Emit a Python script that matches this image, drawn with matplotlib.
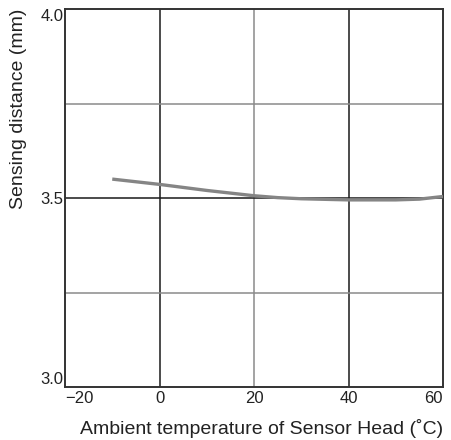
import matplotlib

# Use non-interactive backend
matplotlib.use("Agg")

import matplotlib.pyplot as plt

plt.rcParams["font.family"] = ["Liberation Sans", "DejaVu Sans"]

# ------------------ data ------------------
temperature_c = [-10, 0, 10, 20, 25, 30, 40, 50, 55, 60]
sensing_mm = [3.550, 3.536, 3.520, 3.506, 3.501, 3.498, 3.495, 3.495, 3.497, 3.504]

x_ticks = [-20, 0, 20, 40, 60]
x_tick_labels = ["\u221220", "0", "20", "40", "60"]
y_ticks = [3.0, 3.5, 4.0]
y_tick_labels = ["3.0", "3.5", "4.0"]

# grid lines: (position, colour)
x_grid = [(0, "#1a1a1a"), (20, "#8a8a8a"), (40, "#1a1a1a")]
y_grid = [(3.25, "#8a8a8a"), (3.5, "#1a1a1a"), (3.75, "#8a8a8a")]

# ------------------ plot ------------------
fig = plt.figure(figsize=(4.51, 4.40), dpi=100)
ax = fig.add_axes([65 / 451, 53 / 440, 378 / 451, 378 / 440])

for xv, c in x_grid:
    ax.axvline(xv, color=c, lw=1.1, zorder=1)
for yv, c in y_grid:
    ax.axhline(yv, color=c, lw=1.1, zorder=1)

ax.plot(temperature_c, sensing_mm, color="#858585", lw=2.4,
        solid_capstyle="butt", solid_joinstyle="round", zorder=3)

ax.set_xlim(-20, 60)
ax.set_ylim(3.0, 4.0)

ax.set_xticks(x_ticks)
ax.set_xticklabels(x_tick_labels)
ax.set_yticks(y_ticks)
ax.set_yticklabels(y_tick_labels)
ax.tick_params(length=0, labelsize=12, labelcolor="#222222", pad=3)
ax.tick_params(axis="y", pad=1)

# nudge end labels inward like the reference
xl = ax.get_xticklabels()
xl[0].set_ha("left")
xl[-1].set_ha("right")
yl = ax.get_yticklabels()
yl[0].set_va("bottom")
yl[-1].set_va("top")

for s in ax.spines.values():
    s.set_color("#333333")
    s.set_linewidth(1.4)

ax.set_xlabel("Ambient temperature of Sensor Head (\u02daC)", fontsize=14,
              color="#222222", loc="right", labelpad=9)
ax.set_ylabel("Sensing distance (mm)", fontsize=14, color="#222222",
              loc="top", labelpad=10)

fig.savefig("out.png", dpi=100)
plt.close(fig)
